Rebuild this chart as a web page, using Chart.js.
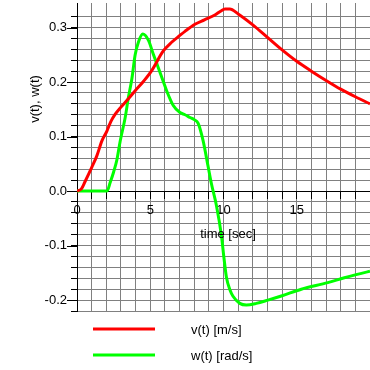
<!DOCTYPE html>
<html>
<head>
<meta charset="utf-8">
<script src="https://cdn.jsdelivr.net/npm/chart.js@4"></script>
<style>
  html, body { margin: 0; padding: 0; background: #fff; }
  #wrap { width: 370px; height: 370px; }
</style>
</head>
<body>
<div id="wrap"><canvas id="chart"></canvas></div>
<script>
// values
const vTimes = [0, 0.3, 0.56, 1.0, 1.36, 1.7, 2.04, 2.3, 2.61, 3.0, 3.4, 3.97, 4.53, 5.1, 5.89, 6.46, 7.0, 7.37, 8.05, 8.7, 9.41, 9.8, 10.1, 10.43, 11.0, 12.0, 13.0, 14.0, 15.0, 16.0, 17.0, 18.0, 19.0, 20];
const vValues = [0, 0.004, 0.018, 0.043, 0.065, 0.092, 0.11, 0.127, 0.141, 0.154, 0.166, 0.184, 0.201, 0.221, 0.257, 0.273, 0.285, 0.293, 0.306, 0.314, 0.323, 0.33, 0.334, 0.334, 0.325, 0.305, 0.282, 0.259, 0.238, 0.22, 0.203, 0.187, 0.173, 0.16];

const wTimes = [0, 2.05, 2.27, 2.5, 2.72, 2.95, 3.29, 3.51, 3.74, 3.97, 4.19, 4.49, 4.87, 5.21, 5.5, 5.89, 6.12, 6.57, 7.03, 7.37, 7.71, 8.0, 8.27, 8.61, 8.95, 9.18, 9.52, 9.86, 10.02, 10.2, 10.45, 10.65, 11.11, 11.56, 12.24, 13.03, 14.0, 15.31, 17.12, 18.25, 20];
const wValues = [0, 0, 0.016, 0.035, 0.057, 0.092, 0.135, 0.172, 0.205, 0.25, 0.273, 0.288, 0.277, 0.251, 0.23, 0.201, 0.184, 0.157, 0.144, 0.14, 0.135, 0.131, 0.124, 0.092, 0.045, 0.013, -0.027, -0.082, -0.12, -0.158, -0.182, -0.193, -0.206, -0.209, -0.206, -0.2, -0.192, -0.18, -0.168, -0.159, -0.147];

const seriesLabels = ["v(t) [m/s]", "w(t) [rad/s]"];
const seriesColors = ["#ff0000", "#00ff00"];
const yTitle = "v(t), w(t)";
const xTitle = "time [sec]";

const fontFamily = "'Liberation Sans', Arial, sans-serif";
const gridGray = "#808080";

Chart.defaults.color = "#000";
Chart.defaults.font.family = fontFamily;
Chart.defaults.font.size = 13;

function points(xs, ys) {
  return xs.map((x, i) => ({ x: x, y: ys[i] }));
}

function isTenth(v) {
  return Math.abs(v * 10 - Math.round(v * 10)) < 1e-6;
}

// titles, longer major ticks and the legend
const extras = {
  id: "extras",
  afterDraw(chart) {
    const ctx = chart.ctx;
    const area = chart.chartArea;
    const ys = chart.scales.y;
    ctx.save();
    ctx.strokeStyle = "#000";
    ctx.lineWidth = 1;
    ys.ticks.forEach(t => {
      if (!isTenth(t.value)) return;
      const py = Math.round(ys.getPixelForValue(t.value)) + 0.5;
      ctx.beginPath();
      ctx.moveTo(area.left - 10, py);
      ctx.lineTo(area.left, py);
      ctx.stroke();
    });

    ctx.fillStyle = "#000";
    ctx.font = "13px " + fontFamily;
    ctx.textBaseline = "middle";
    ctx.textAlign = "center";
    ctx.fillText(xTitle, 228, 234);

    ctx.save();
    ctx.translate(35, 99);
    ctx.rotate(-Math.PI / 2);
    ctx.fillText(yTitle, 0, 0);
    ctx.restore();

    ctx.textAlign = "left";
    chart.data.datasets.forEach((ds, i) => {
      const ly = 329 + i * 26;
      ctx.strokeStyle = ds.borderColor;
      ctx.lineWidth = 3;
      ctx.beginPath();
      ctx.moveTo(93, ly);
      ctx.lineTo(155, ly);
      ctx.stroke();
      ctx.fillText(ds.label, 191, ly + 1);
    });
    ctx.restore();
  }
};

new Chart(document.getElementById("chart"), {
  type: "line",
  data: {
    datasets: [
      {
        label: seriesLabels[0],
        data: points(vTimes, vValues),
        borderColor: seriesColors[0],
        borderWidth: 3,
        pointRadius: 0,
        cubicInterpolationMode: "monotone",
        fill: false,
      },
      {
        label: seriesLabels[1],
        data: points(wTimes, wValues),
        borderColor: seriesColors[1],
        borderWidth: 3,
        pointRadius: 0,
        cubicInterpolationMode: "monotone",
        fill: false,
      },
    ],
  },
  options: {
    responsive: true,
    maintainAspectRatio: false,
    animation: false,
    layout: { padding: { top: 3, bottom: 59, left: 0, right: 0 } },
    plugins: { legend: { display: false }, tooltip: { enabled: false } },
    scales: {
      x: {
        type: "linear",
        position: { y: 0 },
        min: 0,
        max: 20,
        afterBuildTicks: s => { s.ticks = s.ticks.filter(t => t.value < 20); },
        afterFit: s => { s.paddingLeft = 0; s.paddingRight = 0; },
        ticks: {
          stepSize: 1,
          autoSkip: false,
          maxRotation: 0,
          padding: 5,
          callback: v => (v % 5 === 0 ? String(v) : ""),
        },
        grid: {
          color: c => (c.tick && c.tick.value === 0 ? "#000" : gridGray),
          lineWidth: 1,
          tickLength: 7,
          tickColor: "#000",
        },
        border: { color: "#000", width: 1 },
      },
      y: {
        min: -0.22,
        max: 0.345,
        afterFit: s => { s.width = 77; s.paddingTop = 0; s.paddingBottom = 0; },
        afterBuildTicks: s => {
          s.ticks = s.ticks.filter(t => Math.abs(t.value * 50 - Math.round(t.value * 50)) < 1e-6);
        },
        ticks: {
          stepSize: 0.02,
          autoSkip: false,
          padding: 4,
          callback: v => (isTenth(v) ? v.toFixed(1) : ""),
        },
        grid: {
          color: c => (c.tick && Math.abs(c.tick.value) < 1e-9 ? "#000" : gridGray),
          lineWidth: 1,
          tickLength: 6,
          tickColor: "#000",
        },
        border: { color: "#000", width: 1 },
      },
    },
  },
  plugins: [extras],
});
</script>
</body>
</html>
